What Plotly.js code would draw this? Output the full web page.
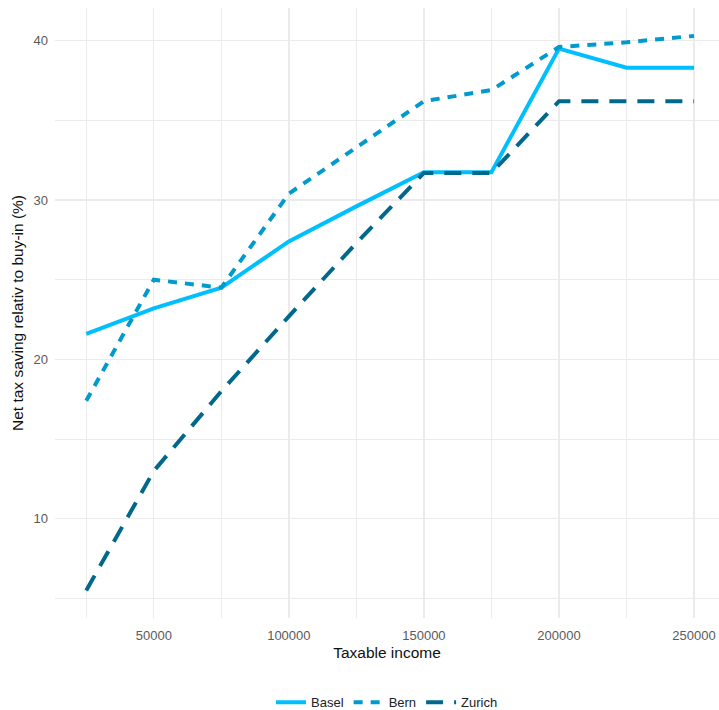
<!DOCTYPE html>
<html>
<head>
<meta charset="utf-8">
<script src="https://cdn.plot.ly/plotly-3.0.1.min.js"></script>
<style>html,body{margin:0;padding:0;background:#fff;overflow:hidden}</style>
</head>
<body>
<div id="chart" style="width:719px;height:710px"></div>
<script>
var income = [25000, 50000, 75000, 100000, 125000, 150000, 175000, 200000, 225000, 250000];
var basel  = [21.6, 23.2, 24.5, 27.4, 29.6, 31.75, 31.75, 39.5, 38.3, 38.3];
var bern   = [17.4, 25.0, 24.5, 30.4, 33.3, 36.2, 36.9, 39.6, 39.9, 40.3];
var zurich = [5.5, 13.0, 18.0, 22.7, 27.3, 31.7, 31.7, 36.2, 36.2, 36.2];
var seriesNames = ["Basel", "Bern", "Zurich"];
var xTicks = [50000, 100000, 150000, 200000, 250000];
var yTicks = [10, 20, 30, 40];

var traces = [
  {x: income, y: basel, name: seriesNames[0], type: "scatter", mode: "lines",
   line: {color: "#00BFFF", width: 4, dash: "solid"}},
  {x: income, y: bern, name: seriesNames[1], type: "scatter", mode: "lines",
   line: {color: "#009ACD", width: 4, dash: "9px,8px"}},
  {x: income, y: zurich, name: seriesNames[2], type: "scatter", mode: "lines",
   line: {color: "#00688B", width: 4, dash: "17px,11px"}}
];

var grid = "#EBEBEB";
var layout = {
  width: 719, height: 710,
  margin: {l: 55, r: 0, t: 8, b: 92, autoexpand: false},
  paper_bgcolor: "#fff", plot_bgcolor: "#fff",
  font: {family: "Liberation Sans, Arial, sans-serif", size: 13, color: "#555"},
  showlegend: true,
  legend: {orientation: "h", x: 0.5, xanchor: "center", y: -0.138, yanchor: "middle",
           font: {size: 13, color: "#222"}, itemwidth: 30, tracegroupgap: 0},
  xaxis: {
    automargin: false,
    range: [13430, 259240], tickvals: xTicks, ticktext: xTicks.map(String),
    showgrid: true, gridcolor: grid, gridwidth: 1.3, zeroline: false, showline: false,
    ticks: "", ticklen: 0, ticklabelstandoff: 8, tickfont: {size: 13, color: "#5a5a5a"},
    minor: {dtick: 50000, tick0: 25000, showgrid: true, gridcolor: grid, gridwidth: 1},
    title: {text: "Taxable income", font: {size: 15.5, color: "#111"}, standoff: 5}
  },
  yaxis: {
    automargin: false,
    range: [3.77, 42.05], tickvals: yTicks, ticktext: yTicks.map(String),
    showgrid: true, gridcolor: grid, gridwidth: 1.3, zeroline: false, showline: false,
    ticks: "", ticklen: 0, ticklabelstandoff: 6, tickfont: {size: 13, color: "#5a5a5a"},
    minor: {dtick: 10, tick0: 5, showgrid: true, gridcolor: grid, gridwidth: 1},
    title: {text: "Net tax saving relativ to buy-in (%)", font: {size: 15.5, color: "#111"}, standoff: 6}
  }
};

Plotly.newPlot("chart", traces, layout, {displayModeBar: false, staticPlot: true});
</script>
</body>
</html>
